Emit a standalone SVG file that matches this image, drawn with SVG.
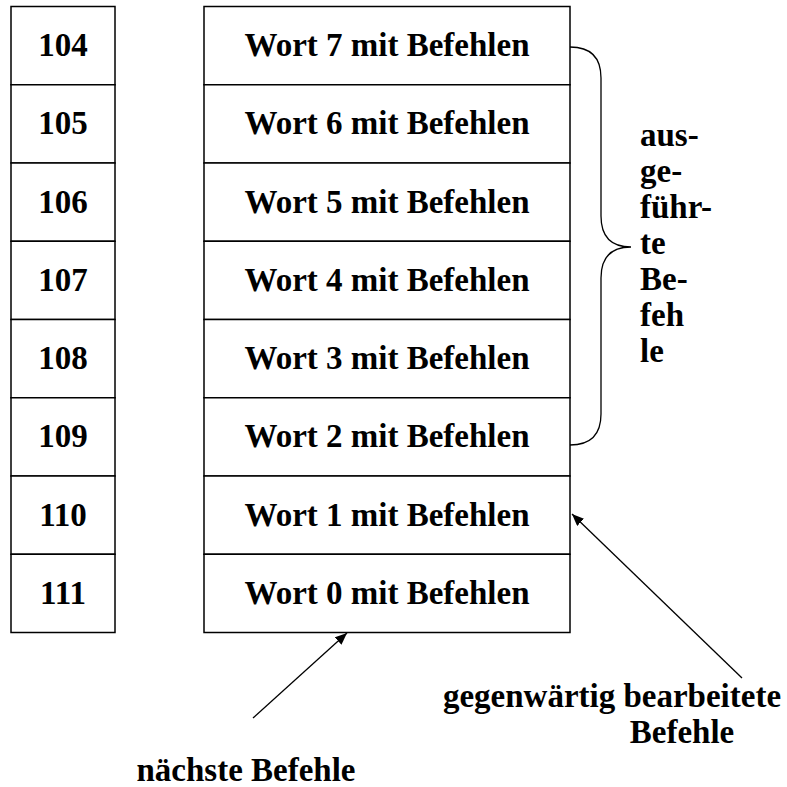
<svg xmlns="http://www.w3.org/2000/svg" width="787" height="787" viewBox="0 0 787 787">
  <style>
    .cell { fill: #ffffff; stroke: #000000; stroke-width: 1.5; }
    .lbl { font-family: "Liberation Serif", "Times New Roman", serif; font-weight: bold; font-size: 33px; fill: #000000; }
    .mid { text-anchor: middle; }
    .line { fill: none; stroke: #000000; stroke-width: 1.3; }
  </style>
  <defs>
    <marker id="arrow" viewBox="0 0 12 10" refX="12" refY="5" markerWidth="12" markerHeight="10" markerUnits="userSpaceOnUse" orient="auto">
      <path d="M0,0 L12,5 L0,10 Z" fill="#000000"/>
    </marker>
  </defs>

  <!-- address column -->
  <g id="addr-104"><rect class="cell" x="11" y="6.5" width="104" height="78.25"/><text class="lbl mid" x="63" y="56">104</text></g>
  <g id="addr-105"><rect class="cell" x="11" y="84.75" width="104" height="78.25"/><text class="lbl mid" x="63" y="134.25">105</text></g>
  <g id="addr-106"><rect class="cell" x="11" y="163" width="104" height="78.25"/><text class="lbl mid" x="63" y="212.5">106</text></g>
  <g id="addr-107"><rect class="cell" x="11" y="241.25" width="104" height="78.25"/><text class="lbl mid" x="63" y="290.75">107</text></g>
  <g id="addr-108"><rect class="cell" x="11" y="319.5" width="104" height="78.25"/><text class="lbl mid" x="63" y="369">108</text></g>
  <g id="addr-109"><rect class="cell" x="11" y="397.75" width="104" height="78.25"/><text class="lbl mid" x="63" y="447.25">109</text></g>
  <g id="addr-110"><rect class="cell" x="11" y="476" width="104" height="78.25"/><text class="lbl mid" x="63" y="525.5">110</text></g>
  <g id="addr-111"><rect class="cell" x="11" y="554.25" width="104" height="78.25"/><text class="lbl mid" x="63" y="603.75">111</text></g>

  <!-- word column -->
  <g id="word-7"><rect class="cell" x="204" y="6.5" width="366" height="78.25"/><text class="lbl mid" x="387" y="56">Wort 7 mit Befehlen</text></g>
  <g id="word-6"><rect class="cell" x="204" y="84.75" width="366" height="78.25"/><text class="lbl mid" x="387" y="134.25">Wort 6 mit Befehlen</text></g>
  <g id="word-5"><rect class="cell" x="204" y="163" width="366" height="78.25"/><text class="lbl mid" x="387" y="212.5">Wort 5 mit Befehlen</text></g>
  <g id="word-4"><rect class="cell" x="204" y="241.25" width="366" height="78.25"/><text class="lbl mid" x="387" y="290.75">Wort 4 mit Befehlen</text></g>
  <g id="word-3"><rect class="cell" x="204" y="319.5" width="366" height="78.25"/><text class="lbl mid" x="387" y="369">Wort 3 mit Befehlen</text></g>
  <g id="word-2"><rect class="cell" x="204" y="397.75" width="366" height="78.25"/><text class="lbl mid" x="387" y="447.25">Wort 2 mit Befehlen</text></g>
  <g id="word-1"><rect class="cell" x="204" y="476" width="366" height="78.25"/><text class="lbl mid" x="387" y="525.5">Wort 1 mit Befehlen</text></g>
  <g id="word-0"><rect class="cell" x="204" y="554.25" width="366" height="78.25"/><text class="lbl mid" x="387" y="603.75">Wort 0 mit Befehlen</text></g>

  <!-- brace and side label -->
  <g id="executed">
    <path class="line" d="M570,47 Q601,47 601,78 L601,216 Q601,247 631,247 Q601,247 601,278 L601,414 Q601,445 570,445"/>
    <text class="lbl" x="640">
      <tspan x="640" y="146">aus-</tspan>
      <tspan x="640" y="182">ge-</tspan>
      <tspan x="640" y="218">führ-</tspan>
      <tspan x="640" y="254">te</tspan>
      <tspan x="640" y="290">Be-</tspan>
      <tspan x="640" y="326">feh</tspan>
      <tspan x="640" y="362">le</tspan>
    </text>
  </g>

  <!-- captions -->
  <g id="current">
    <text class="lbl mid" x="612" y="707">gegenwärtig bearbeitete</text>
    <text class="lbl mid" x="682" y="743">Befehle</text>
  </g>
  <g id="next">
    <text class="lbl mid" x="246" y="781">nächste Befehle</text>
  </g>

  <!-- connectors -->
  <g id="connectors">
    <line class="line" x1="253" y1="718" x2="347" y2="633" marker-end="url(#arrow)"/>
    <line class="line" x1="742" y1="678" x2="572" y2="514" marker-end="url(#arrow)"/>
  </g>
</svg>
